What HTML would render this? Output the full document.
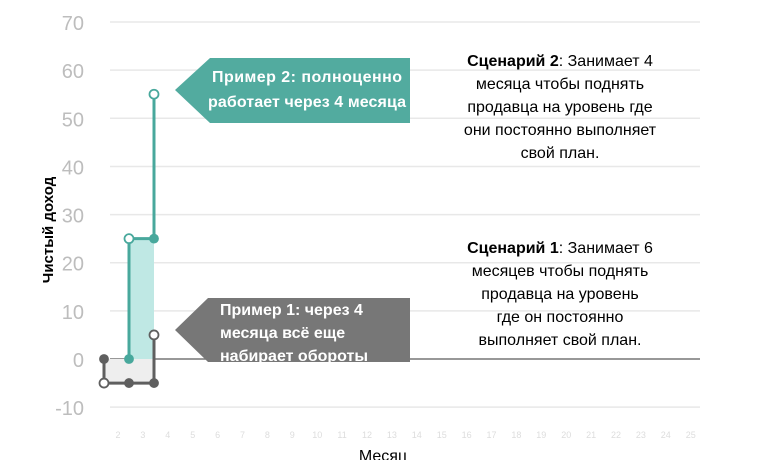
<!DOCTYPE html>
<html><head><meta charset="utf-8"><style>
body{margin:0;background:#fff;width:765px;height:460px;overflow:hidden;font-family:"Liberation Sans","Noto Sans CJK SC",sans-serif}
svg{position:absolute;left:0;top:0}
</style></head><body>
<svg id="c" width="765" height="460"></svg>
<script>
const yTicks=[70,60,50,40,30,20,10,0,-10];
const xTicks=[2,3,4,5,6,7,8,9,10,11,12,13,14,15,16,17,18,19,20,21,22,23,24,25];
const teal=[[2,0],[2,25],[3,25],[3,55]];
const grey=[[1,0],[1,-5],[2,-5],[3,-5],[3,5]];
const tealOpen=[false,true,false,true];
const greyOpen=[false,true,false,false,true];
const y=v=>359-v*4.814;
const x=m=>104+(m-1)*25;
const xl=k=>118+(k-2)*24.9;
const s=document.getElementById('c');const NS='http://www.w3.org/2000/svg';
function el(t,a,txt){const e=document.createElementNS(NS,t);for(const k in a)e.setAttribute(k,a[k]);if(txt!=null)e.textContent=txt;s.appendChild(e);return e;}
yTicks.forEach(v=>{
 const g=el('line',{x1:110,x2:700,y1:y(v),y2:y(v),stroke:v===0?'#777':'#e8e8e8','stroke-width':1.5});
 
 const t=el('text',{x:84,y:y(v)+8,'text-anchor':'end','font-size':20,fill:'#bdbdbd'},String(v));
 
});
xTicks.forEach(k=>{const t=el('text',{x:xl(k),y:438,'text-anchor':'middle','font-size':9,fill:'#ddd'},String(k));
 });
const gf=el('rect',{x:x(grey[1][0]),y:y(0),width:x(grey[3][0])-x(grey[1][0]),height:y(grey[1][1])-y(0),fill:'#eeeeee'});

const tf=el('rect',{x:x(teal[1][0]),y:y(teal[1][1]),width:x(teal[2][0])-x(teal[1][0]),height:y(0)-y(teal[1][1]),fill:'#bfe8e4'});

function series(d,col,open,name){
 const p=el('polyline',{points:d.map(a=>x(a[0])+','+y(a[1])).join(' '),fill:'none',stroke:col,'stroke-width':3});
 
 d.forEach((a,i)=>{const c=el('circle',{cx:x(a[0]),cy:y(a[1]),r:open[i]?4.5:4,fill:open[i]?'#fff':col,stroke:col,'stroke-width':1.8});
  });
}
series(grey,'#5f5f5f',greyOpen,'scenario1');
series(teal,'#48a89c',tealOpen,'scenario2');
</script>
<svg width="765" height="460" style="pointer-events:none">
<g>
<polygon points="175,90 210,58 410,58 410,123 210,123" fill="#52ab9f"/>
<text x="307" y="82" text-anchor="middle" font-size="16" font-weight="bold" fill="#fff" textLength="190">Пример 2: полноценно</text>
<text x="307" y="107" text-anchor="middle" font-size="16" font-weight="bold" fill="#fff" textLength="198">работает через 4 месяца</text>
</g>
<g>
<polygon points="175,330 208,298 410,298 410,362 208,362" fill="#777"/>
<text x="220" y="315" font-size="16" font-weight="bold" fill="#fff">Пример 1: через 4</text>
<text x="220" y="338" font-size="16" font-weight="bold" fill="#fff">месяца всё еще</text>
<text x="220" y="361" font-size="16" font-weight="bold" fill="#fff">набирает обороты</text>
</g>
<g font-size="16" fill="#000" text-anchor="middle">
<text x="560" y="66"><tspan font-weight="bold">Сценарий 2</tspan>: Занимает 4</text>
<text x="560" y="89">месяца чтобы поднять</text>
<text x="560" y="112">продавца на уровень где</text>
<text x="560" y="135">они постоянно выполняет</text>
<text x="560" y="158">свой план.</text>
</g>
<g font-size="16" fill="#000" text-anchor="middle">
<text x="560" y="253"><tspan font-weight="bold">Сценарий 1</tspan>: Занимает 6</text>
<text x="560" y="276">месяцев чтобы поднять</text>
<text x="560" y="299">продавца на уровень</text>
<text x="560" y="322">где он постоянно</text>
<text x="560" y="345">выполняет свой план.</text>
</g>
<text x="0" y="0" transform="translate(53,230) rotate(-90)" text-anchor="middle" font-size="15" font-weight="bold">Чистый доход</text>
<text x="383" y="461" text-anchor="middle" font-size="16">Месяц</text>
</svg>
</body></html>
